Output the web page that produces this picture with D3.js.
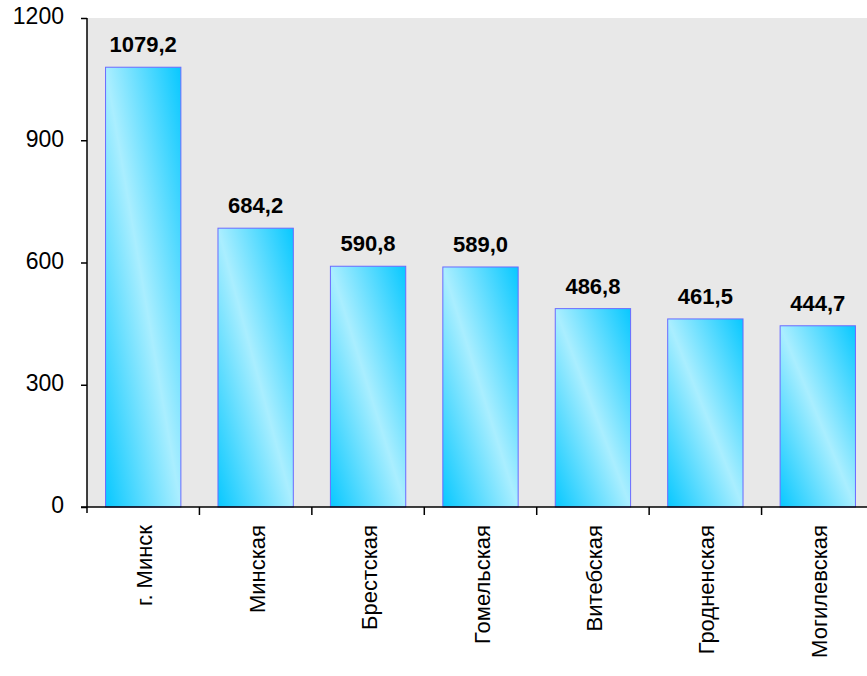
<!DOCTYPE html>
<html>
  <head>
    <meta charset="utf-8">
    <title>Bar Chart</title>
    <script src="https://d3js.org/d3.v7.min.js"></script>
    <style>
      body { margin: 0; background: #fff; }
      svg { display: block; font-family: "Liberation Sans", Arial, sans-serif; }
    </style>
  </head>
  <body>
    <div id="chart"></div>
    <script>
      // Data
      var regions = ["г. Минск", "Минская", "Брестская", "Гомельская", "Витебская", "Гродненская", "Могилевская"];
      var values = [1079.2, 684.2, 590.8, 589.0, 486.8, 461.5, 444.7];
      var yTicks = [0, 300, 600, 900, 1200];

      var data = regions.map(function(r, i) { return {region: r, value: values[i]}; });

      // Dimensions
      var margin = {top: 18, right: 0, bottom: 169, left: 87},
          width = 787,
          height = 676 - margin.top - margin.bottom;

      var svg = d3.select("#chart")
        .append("svg")
          .attr("width", 867)
          .attr("height", 676)
        .append("g")
          .attr("transform", "translate(" + margin.left + "," + margin.top + ")");

      // Gradient for bars
      var defs = svg.append("defs");
      var grad = defs.append("linearGradient")
          .attr("id", "barGrad")
          .attr("x1", 0).attr("y1", 1)
          .attr("x2", 1).attr("y2", 0);
      grad.append("stop").attr("offset", "0%").attr("stop-color", "#08c8ff");
      grad.append("stop").attr("offset", "50%").attr("stop-color", "#aaeeff");
      grad.append("stop").attr("offset", "100%").attr("stop-color", "#08c8ff");

      // Plot background
      svg.append("rect")
          .attr("width", width)
          .attr("height", height)
          .attr("fill", "#e8e8e8");

      // Scales
      var x = d3.scaleBand()
          .domain(regions)
          .range([0, width])
          .paddingInner(0.33)
          .paddingOuter(0.165);

      var y = d3.scaleLinear()
          .domain([0, 1200])
          .range([height, 0]);

      var step = x.step();

      // Bars
      svg.selectAll(".bar")
        .data(data)
        .enter()
        .append("rect")
          .attr("class", "bar")
          .attr("x", function(d) { return x(d.region); })
          .attr("y", function(d) { return y(d.value); })
          .attr("width", x.bandwidth())
          .attr("height", function(d) { return height - y(d.value); })
          .attr("fill", "url(#barGrad)")
          .attr("stroke", "#6a6aff")
          .attr("stroke-width", 1);

      // Value labels
      svg.selectAll(".val")
        .data(data)
        .enter()
        .append("text")
          .attr("class", "val")
          .attr("x", function(d) { return x(d.region) + x.bandwidth() / 2; })
          .attr("y", function(d) { return y(d.value) - 15; })
          .attr("text-anchor", "middle")
          .style("font-size", "22px")
          .style("font-weight", "bold")
          .text(function(d) { return d3.format(".1f")(d.value).replace(".", ","); });

      // Y axis
      var yAxis = svg.append("g")
          .call(d3.axisLeft(y).tickValues(yTicks).tickSize(6).tickPadding(17).tickFormat(d3.format("d")));
      yAxis.select(".domain").attr("d", "M0," + (height + 6) + "V0").attr("stroke", "#000").attr("stroke-width", 1.5);
      yAxis.selectAll(".tick line").attr("stroke", "#000").attr("stroke-width", 1.5);
      yAxis.selectAll(".tick text")
          .style("font-size", "23px")
          .attr("fill", "#000")
          .attr("dy", "0.25em");

      // X axis
      var xAxis = svg.append("g")
          .attr("transform", "translate(0," + height + ")");
      xAxis.append("line")
          .attr("x1", -6).attr("x2", width)
          .attr("stroke", "#000").attr("stroke-width", 1.5);
      xAxis.selectAll(".xtick")
        .data(regions)
        .enter()
        .append("line")
          .attr("class", "xtick")
          .attr("x1", function(d) { return x(d) + x.bandwidth() + (step - x.bandwidth()) / 2; })
          .attr("x2", function(d) { return x(d) + x.bandwidth() + (step - x.bandwidth()) / 2; })
          .attr("y1", 0).attr("y2", 8)
          .attr("stroke", "#000").attr("stroke-width", 1.5);
      xAxis.selectAll(".xlabel")
        .data(regions)
        .enter()
        .append("text")
          .attr("class", "xlabel")
          .attr("transform", function(d) {
            return "translate(" + (x(d) + x.bandwidth() / 2 + 9) + ",18) rotate(-90)";
          })
          .attr("text-anchor", "end")
          .style("font-size", "22px")
          .text(function(d) { return d; });
    </script>
  </body>
</html>
